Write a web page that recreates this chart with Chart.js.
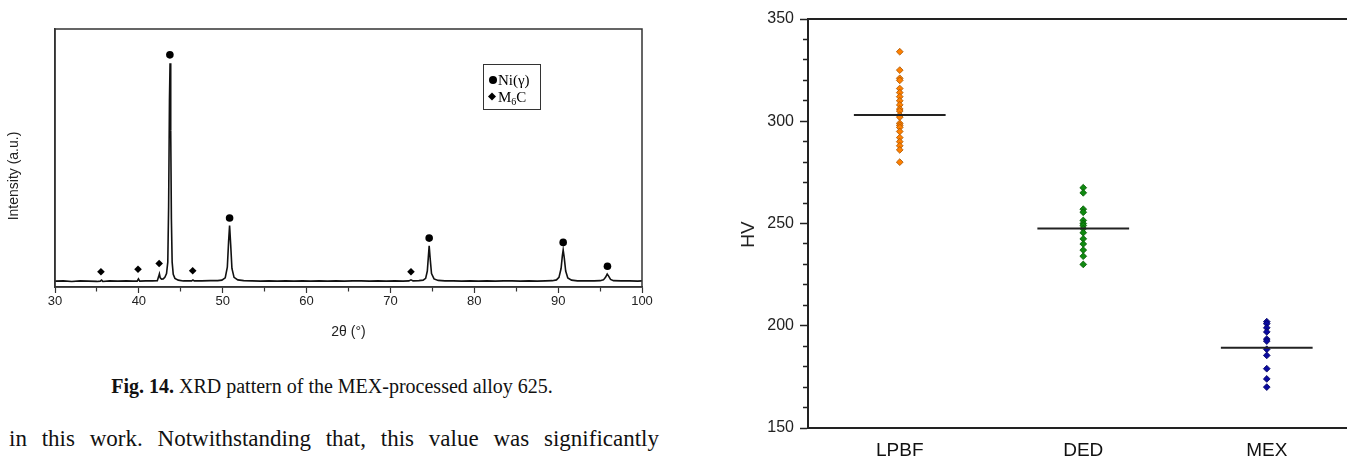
<!DOCTYPE html>
<html>
<head>
<meta charset="utf-8">
<script src="https://cdn.jsdelivr.net/npm/chart.js@4.4.0/dist/chart.umd.min.js"></script>
<style>
  html, body { margin: 0; padding: 0; background: #fff; overflow: hidden; width: 1347px; height: 459px; }
  canvas { position: absolute; }
  #xrd { left: 0; top: 0; }
  #hv { left: 700px; top: 0; }
  .cap { position: absolute; left: 0; top: 374px; width: 664px; text-align: center;
         font: 20px "Liberation Serif", "Times New Roman", serif; line-height: 24px; color: #111; }
  .para { position: absolute; left: 9px; top: 426px; width: 650px; text-align: justify; text-align-last: justify;
          font: 23px "Liberation Serif", "Times New Roman", serif; line-height: 26px; color: #111; white-space: nowrap; }
</style>
</head>
<body>
<canvas id="xrd" width="660" height="345"></canvas>
<canvas id="hv" width="700" height="459"></canvas>
<div class="cap"><b>Fig. 14.</b> XRD pattern of the MEX-processed alloy 625.</div>
<div class="para">in this work. Notwithstanding that, this value was significantly</div>
<script>
// XRD pattern (2theta in degrees, intensity in arbitrary units)
const twoTheta = [30, 31, 32, 33, 34, 35, 35.4, 35.55, 35.7, 36.5, 37.5, 38.5, 39.3, 39.8, 39.95, 40.1,
  40.8, 41.6, 42.2, 42.35, 42.45, 42.55, 42.7, 42.9, 43.1, 43.3, 43.45, 43.55, 43.65, 43.72, 43.8, 43.88,
  43.97, 44.1, 44.3, 44.7, 45.3, 46, 46.3, 46.45, 46.6, 47.5, 48.5, 49.4, 49.9, 50.3, 50.55, 50.7, 50.82,
  50.95, 51.1, 51.35, 51.8, 52.5, 53.5, 54.5, 55.5, 56.5, 57.5, 58.5, 59.5, 60.5, 61.5, 62.5, 63.5, 64.5,
  65.5, 66.5, 67.5, 68.5, 69.5, 70.5, 71.5, 72.2, 72.45, 72.7, 73.4, 73.9, 74.2, 74.4, 74.52, 74.62, 74.75,
  74.9, 75.2, 75.7, 76.5, 77.5, 78.5, 79.5, 80.5, 81.5, 82.5, 83.5, 84.5, 85.5, 86.5, 87.5, 88.5, 89.3,
  89.8, 90.1, 90.35, 90.5, 90.6, 90.72, 90.9, 91.15, 91.6, 92.3, 93.3, 94.3, 95, 95.4, 95.65, 95.85, 96,
  96.25, 96.6, 97.5, 98.5, 99.5, 100];
const intensity = [0.5, 0.6, 0.4, 0.6, 0.5, 0.4, 0.5, 0.9, 0.4, 0.6, 0.5, 0.6, 0.5, 0.5, 1.4, 0.5,
  0.6, 0.6, 0.7, 2.2, 3.4, 1.8, 1.3, 1.4, 2.0, 3.5, 8, 30, 72, 86.5, 60, 25,
  8, 3.2, 1.6, 0.9, 0.6, 0.6, 0.6, 1.0, 0.6, 0.6, 0.7, 0.7, 0.9, 1.8, 6, 16, 22.4,
  15, 5.5, 2, 1, 0.7, 0.6, 0.5, 0.6, 0.5, 0.6, 0.5, 0.6, 0.5, 0.6, 0.5, 0.6, 0.5,
  0.6, 0.6, 0.5, 0.6, 0.5, 0.6, 0.5, 0.6, 1.0, 0.6, 0.7, 0.9, 1.6, 4.5, 10, 14.5, 9,
  3.5, 1.4, 0.8, 0.6, 0.6, 0.5, 0.6, 0.5, 0.6, 0.5, 0.6, 0.6, 0.5, 0.6, 0.5, 0.6, 0.7,
  1.0, 2.0, 5.5, 10.5, 12.8, 10, 4.5, 1.8, 0.9, 0.6, 0.6, 0.6, 0.7, 1.0, 2.0, 3.3, 2.6,
  1.2, 0.7, 0.6, 0.6, 0.5, 0.6];
const niPeaks = [43.7, 50.82, 74.62, 90.6, 95.88];
const niMarks = [89.8, 25.4, 17.5, 15.8, 6.4];
const m6cPeaks = [35.48, 39.9, 42.42, 46.42, 72.45];
const m6cMarks = [4.2, 5.2, 7.5, 4.6, 4.2];
const xrdTicks = [30, 40, 50, 60, 70, 80, 90, 100];

// Vickers hardness
const groups = ['LPBF', 'DED', 'MEX'];
const lpbfHV = [334, 325, 321, 320, 316, 314, 312, 310, 308, 306, 305, 303, 302, 299, 298, 297, 295, 292, 290, 288, 286, 280];
const dedHV = [267.5, 265, 257, 255.5, 251.5, 250, 249, 247.5, 245.5, 242.5, 240, 237, 234, 230];
const mexHV = [202, 201, 199, 197, 193.5, 192.5, 188.5, 185.5, 179, 174, 170];
const meanHV = [303, 247.5, 189.3];
const hvTicks = [150, 200, 250, 300, 350];

Chart.defaults.font.family = '"Liberation Sans", Arial, sans-serif';
Chart.defaults.color = '#222';
Chart.defaults.animation = false;
Chart.defaults.events = [];

// box around the plot area
const frame = {
  id: 'frame',
  afterDraw(chart, args, opts) {
    const { ctx, chartArea: a } = chart;
    ctx.save();
    ctx.strokeStyle = opts.color;
    ctx.lineWidth = opts.width;
    ctx.strokeRect(a.left, a.top, a.right - a.left, a.bottom - a.top);
    ctx.restore();
  }
};

// rotated y title, a bit below the middle like the original
const sideTitle = {
  id: 'sideTitle',
  afterDraw(chart, args, opts) {
    const { ctx, chartArea: a } = chart;
    ctx.save();
    ctx.translate(opts.x, (a.top + a.bottom) / 2 + opts.dy);
    ctx.rotate(-Math.PI / 2);
    ctx.font = opts.font;
    ctx.fillStyle = '#222';
    ctx.textAlign = 'center';
    ctx.textBaseline = 'middle';
    ctx.fillText(opts.text, 0, 0);
    ctx.restore();
  }
};

// phase key drawn inside the XRD plot
const phaseKey = {
  id: 'phaseKey',
  afterDraw(chart, args, opts) {
    const { ctx, chartArea: a } = chart;
    const x = a.right - opts.right, y = a.top + opts.top;
    ctx.save();
    ctx.fillStyle = '#fff';
    ctx.fillRect(x, y, opts.w, opts.h);
    ctx.strokeStyle = '#333';
    ctx.lineWidth = 1;
    ctx.strokeRect(x + 0.5, y + 0.5, opts.w, opts.h);
    ctx.fillStyle = '#000';
    ctx.beginPath();
    ctx.arc(x + 10, y + 16, 4, 0, Math.PI * 2);
    ctx.fill();
    ctx.beginPath();
    ctx.moveTo(x + 9, y + 28.5); ctx.lineTo(x + 13, y + 32.5);
    ctx.lineTo(x + 9, y + 36.5); ctx.lineTo(x + 5, y + 32.5);
    ctx.fill();
    ctx.font = '15px "Liberation Serif", serif';
    ctx.textBaseline = 'alphabetic';
    ctx.fillText('Ni(γ)', x + 15, y + 21);
    ctx.fillText('M', x + 15, y + 38);
    const mw = ctx.measureText('M').width;
    ctx.font = '10px "Liberation Serif", serif';
    ctx.fillText('6', x + 15 + mw, y + 41);
    const sw = ctx.measureText('6').width;
    ctx.font = '15px "Liberation Serif", serif';
    ctx.fillText('C', x + 15 + mw + sw, y + 38);
    ctx.restore();
  }
};

new Chart(document.getElementById('xrd'), {
  type: 'scatter',
  data: {
    datasets: [
      {
        data: niPeaks.map((p, i) => ({ x: p, y: niMarks[i] })),
        pointStyle: 'circle', pointRadius: 3.8, backgroundColor: '#000', borderColor: '#000', borderWidth: 0
      },
      {
        data: m6cPeaks.map((p, i) => ({ x: p, y: m6cMarks[i] })),
        pointStyle: 'rectRot', pointRadius: 3.8, backgroundColor: '#000', borderColor: '#000', borderWidth: 0
      },
      {
        data: twoTheta.map((t, i) => ({ x: t, y: intensity[i] })),
        showLine: true, pointRadius: 0, borderColor: '#111', borderWidth: 1.6
      }
    ]
  },
  options: {
    responsive: false,
    devicePixelRatio: 1,
    layout: { padding: { left: 0, top: 29, right: 18, bottom: 0 } },
    plugins: {
      legend: { display: false },
      tooltip: { enabled: false },
      frame: { color: '#333', width: 1.5 },
      sideTitle: { text: 'Intensity (a.u.)', x: 14, dy: 18, font: '14px "Liberation Sans", Arial, sans-serif' },
      phaseKey: { right: 159, top: 35, w: 57, h: 45 }
    },
    scales: {
      x: {
        min: 30, max: 100,
        ticks: {
          stepSize: 5, autoSkip: false, maxRotation: 0, padding: 1,
          font: { size: 13 },
          callback: v => (xrdTicks.includes(v) ? v : '')
        },
        grid: {
          drawOnChartArea: false, tickLength: 6, tickColor: '#333', tickWidth: 1.2,
          tickBorderDash: c => (xrdTicks.includes(c.tick.value) ? [] : [4, 100])
        },
        border: { color: '#333', width: 1.5 },
        title: { display: true, text: '2θ (°)', font: { size: 14 }, padding: { top: 0, bottom: 4 } },
        afterFit: s => { s.height = 58; }
      },
      y: {
        min: -1.8, max: 100,
        ticks: { display: false },
        grid: { display: false },
        border: { color: '#333', width: 1.5 },
        afterFit: s => { s.width = 55; }
      }
    }
  },
  plugins: [frame, sideTitle, phaseKey]
});

const hvSets = [lpbfHV, dedHV, mexHV];
const fills = ['#ff8000', '#108a10', '#0a0aa0'];
const edges = ['#a85400', '#065a06', '#05055e'];

new Chart(document.getElementById('hv'), {
  type: 'scatter',
  data: {
    datasets: [
      ...meanHV.map((m, i) => ({
        data: [{ x: i + 0.75, y: m }, { x: i + 1.25, y: m }],
        showLine: true, pointRadius: 0, borderColor: '#222', borderWidth: 2, order: 0
      })),
      ...hvSets.map((vals, i) => ({
        data: vals.map(v => ({ x: i + 1, y: v })),
        pointStyle: 'rectRot', pointRadius: 3.4,
        backgroundColor: fills[i], borderColor: edges[i], borderWidth: 0.8, order: 1
      }))
    ]
  },
  options: {
    responsive: false,
    devicePixelRatio: 1,
    layout: { padding: { left: 0, top: 19, right: 41.5, bottom: 0 } },
    plugins: {
      legend: { display: false },
      tooltip: { enabled: false },
      frame: { color: '#222', width: 2 },
      sideTitle: { text: 'HV', x: 49, dy: 11, font: '19px "Liberation Sans", Arial, sans-serif' }
    },
    scales: {
      x: {
        type: 'linear', min: 0.5, max: 3.5,
        afterBuildTicks: s => { s.ticks = groups.map((g, i) => ({ value: i + 1 })); },
        ticks: { callback: v => groups[v - 1], font: { size: 19 }, color: '#111', padding: 3, maxRotation: 0 },
        grid: { display: false },
        border: { color: '#222', width: 2 },
        afterFit: s => { s.height = 31; }
      },
      y: {
        min: 150, max: 350,
        ticks: {
          stepSize: 10, autoSkip: false, padding: 6, font: { size: 16 },
          callback: v => (hvTicks.includes(v) ? v : '')
        },
        grid: {
          drawOnChartArea: false, tickLength: 8, tickColor: '#222', tickWidth: 1.5,
          tickBorderDash: c => (hvTicks.includes(c.tick.value) ? [] : [0, 3, 5, 100])
        },
        border: { color: '#222', width: 2 },
        afterFit: s => { s.width = 108; }
      }
    }
  },
  plugins: [frame, sideTitle]
});
</script>
</body>
</html>
